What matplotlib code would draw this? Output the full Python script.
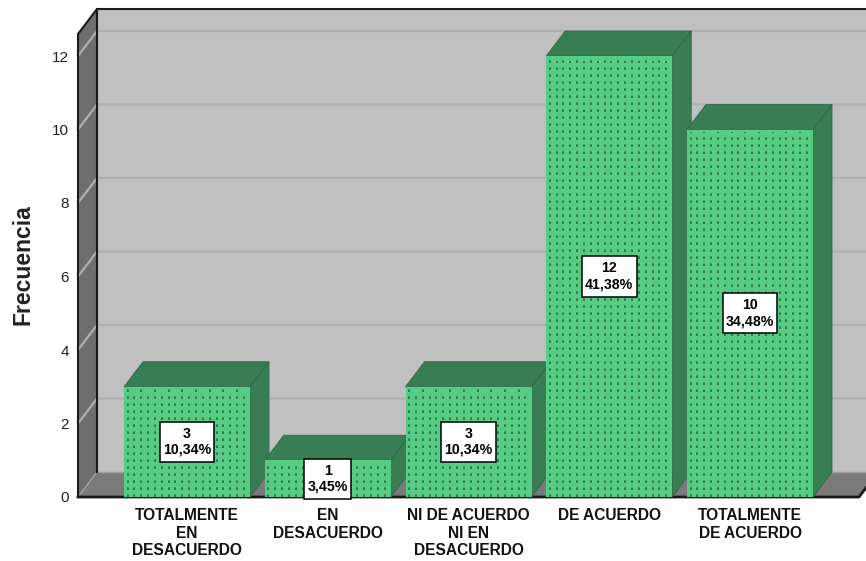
import numpy as np
import matplotlib
matplotlib.use("Agg")
import matplotlib.pyplot as plt
from matplotlib.patches import Polygon, Rectangle
from matplotlib.path import Path

categories = ["TOTALMENTE\nEN\nDESACUERDO", "EN\nDESACUERDO",
              "NI DE ACUERDO\nNI EN\nDESACUERDO", "DE ACUERDO",
              "TOTALMENTE\nDE ACUERDO"]
counts = [3, 1, 3, 12, 10]
percents = ["10,34%", "3,45%", "10,34%", "41,38%", "34,48%"]
yticks = [0, 2, 4, 6, 8, 10, 12]

W, H = 866, 561
PXX = 140.75       # px per category
PXY = 36.75        # px per count
L, R, B, T = 78, 859, 497, 34
DX, DY = 19 / PXX, 25 / PXY   # depth in data units
BW = 126 / PXX

fig = plt.figure(figsize=(W / 100, H / 100), dpi=100, facecolor="white")
ax = fig.add_axes([L / W, 1 - B / H, (R - L) / W, (B - T) / H])
ax.set_xlim((L - 187) / PXX, (R - 187) / PXX)
ax.set_ylim(0, (B - T) / PXY)
x0, x1 = ax.get_xlim()
ytop = ax.get_ylim()[1]
ax.patch.set_visible(False)
for s in ax.spines.values():
    s.set_visible(False)


def poly(pts, fc, ec="none", lw=0, z=1):
    ax.add_patch(Polygon(pts, closed=True, fc=fc, ec=ec, lw=lw, zorder=z, clip_on=False))


def label_box(x, y, w, h, mutation_size):
    # square box with separate horizontal and vertical padding (display units)
    px, py = 3.2, 5.0
    a, b, c, d = x - px, y - py, x + w + px, y + h + py
    return Path([(a, b), (c, b), (c, d), (a, d), (a, b)],
                [Path.MOVETO, Path.LINETO, Path.LINETO, Path.LINETO, Path.CLOSEPOLY])


# walls and floor
poly([(x0 + DX, DY), (x1 + DX, DY), (x1 + DX, ytop + DY), (x0 + DX, ytop + DY)], "#c0c0c0")
poly([(x0, 0), (x0 + DX, DY), (x0 + DX, ytop + DY), (x0, ytop)], "#6e6e6e")
poly([(x0, 0), (x1, 0), (x1 + DX, DY), (x0 + DX, DY)], "#7a7a7a")

for v in yticks[1:]:
    ax.plot([x0, x0 + DX, x1 + DX], [v, v + DY, v + DY], color="#afafaf", lw=1.6,
            zorder=1.5, clip_on=False, solid_capstyle="butt")
ax.plot([x0, x0 + DX], [0, DY], color="#a0a0a0", lw=1, zorder=1.5, clip_on=False)
ax.plot([x0 + DX, x1 + DX], [DY, DY], color="#a0a0a0", lw=1.0, zorder=1.5, clip_on=False)

ax.plot([x0, x0, x0 + DX, x1 + DX], [0, ytop, ytop + DY, ytop + DY], color="#1a1a1a", lw=1.5,
        zorder=1.8, clip_on=False)
ax.plot([x0 + DX, x0 + DX], [DY, ytop + DY], color="#1a1a1a", lw=1.5, zorder=1.8, clip_on=False)
ax.plot([x0, x1, x1 + DX], [0, 0, DY], color="#1a1a1a", lw=2, zorder=1.8, clip_on=False)

# bars
FACE, DARK = "#57cc85", "#387d54"
dot = "#2b6b45"
for i, v in enumerate(counts):
    a, b = i - BW / 2, i + BW / 2
    z = 3 + i * 0.1
    poly([(b, 0), (b + DX, DY), (b + DX, v + DY), (b, v)], DARK, "#2f6a47", 0.6, z)
    poly([(a, v), (b, v), (b + DX, v + DY), (a + DX, v + DY)], DARK, "#2f6a47", 0.6, z)
    ax.add_patch(Rectangle((a, 0), BW, v, fc=FACE, ec="none", zorder=z))
    cols = np.arange(a + 3.5 / PXX, b, 6.85 / PXX)
    for k, c in enumerate(cols):
        ax.plot([c, c], [0, v - (2.5 + 2.5 * (k % 2)) / PXY], color=dot, lw=1.2, zorder=z + 0.01,
                linestyle=(0, (1.6, 2.6)), solid_capstyle="butt", dash_capstyle="butt")
    ax.text(i, v / 2 if v > 1 else 0.5, f"{v}\n{percents[i]}", ha="center", va="center",
            fontsize=10.2, fontweight="bold", family="Liberation Sans", color="black",
            linespacing=1.2, zorder=6,
            bbox=dict(boxstyle=label_box, fc="white", ec="black", lw=1.1))

ax.set_xticks(range(len(categories)), categories)
ax.set_yticks(yticks)
ax.tick_params(axis="x", length=0, pad=8)
ax.tick_params(axis="y", length=0, pad=6.5, labelsize=11, labelcolor="#222222")
for t in ax.get_yticklabels():
    t.set_family("Liberation Sans")
for t in ax.get_xticklabels():
    t.set_family("Liberation Sans")
    t.set_fontweight("bold")
    t.set_fontsize(11.2)
    t.set_linespacing(1.2)
    t.set_color("#111111")

fig.text(23 / W, 1 - 265 / H, "Frecuencia", rotation=90, ha="center", va="center",
         fontsize=16.5, fontweight="bold", family="Liberation Sans", color="#222222")

fig.savefig("out.png", dpi=100, facecolor="white")
